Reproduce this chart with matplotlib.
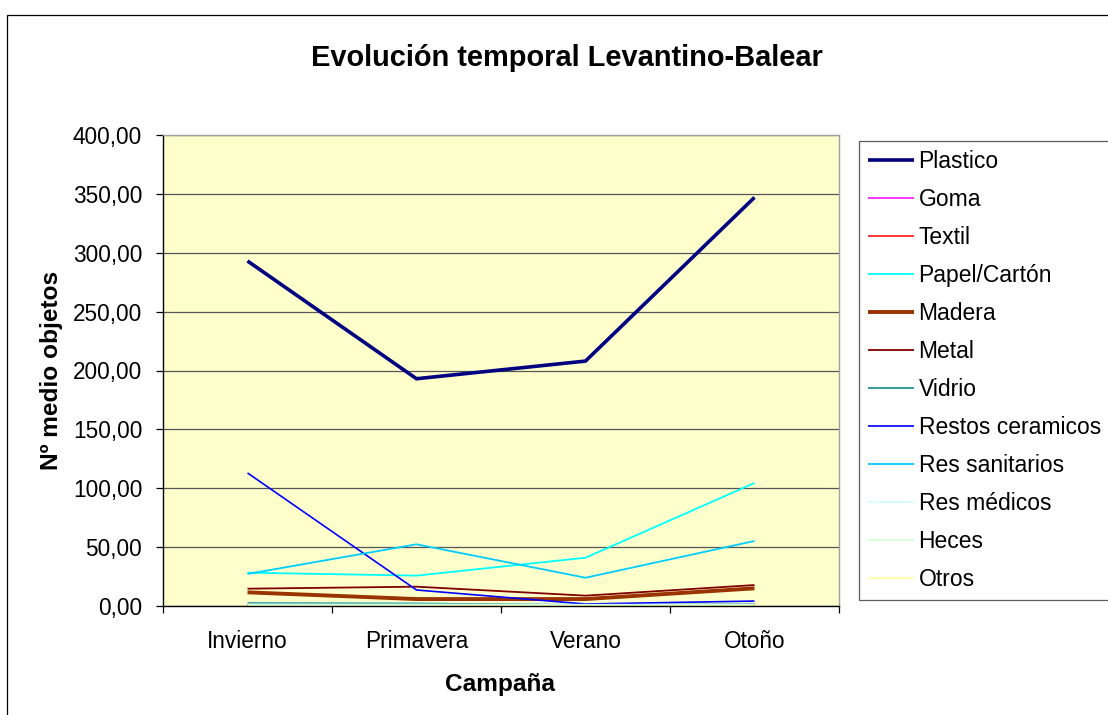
import matplotlib
matplotlib.use("Agg")
import matplotlib.pyplot as plt
from matplotlib.patches import Rectangle
from matplotlib.ticker import FuncFormatter, FixedLocator

plt.rcParams['font.family'] = ['Liberation Sans', 'DejaVu Sans']

categories = ["Invierno", "Primavera", "Verano", "Otoño"]
series_names = ["Plastico", "Goma", "Textil", "Papel/Cartón", "Madera", "Metal",
                "Vidrio", "Restos ceramicos", "Res sanitarios", "Res médicos",
                "Heces", "Otros"]
plastico = [293.0, 193.0, 208.0, 347.0]
goma = [0.3, 0.3, 0.3, 1.2]
textil = [0.5, 0.5, 0.4, 0.6]
papel = [28.3, 25.8, 41.0, 104.5]
madera = [11.6, 5.9, 5.9, 15.0]
metal = [14.7, 16.4, 8.8, 17.8]
vidrio = [2.5, 2.2, 1.0, 1.5]
ceramicos = [113.0, 13.6, 1.7, 4.2]
sanitarios = [27.2, 52.4, 24.0, 55.2]
medicos = [1.5, 1.5, 1.2, 1.3]
heces = [0.5, 0.5, 0.4, 0.5]
otros = [0.2, 0.2, 0.2, 0.2]
yticks = [0, 50, 100, 150, 200, 250, 300, 350, 400]

values = [plastico, goma, textil, papel, madera, metal, vidrio, ceramicos,
          sanitarios, medicos, heces, otros]
colors = ["#000080", "#FF00FF", "#FF0000", "#00FFFF", "#993300", "#800000",
          "#008080", "#0000FF", "#00CCFF", "#CCFFFF", "#CCFFCC", "#FFFF99"]
widths = [2.6, 1.1, 1.1, 1.3, 2.8, 1.3, 1.1, 1.2, 1.3, 1.1, 1.1, 1.1]

W, H = 1108, 715
fig = plt.figure(figsize=(W / 100, H / 100), dpi=100)
fig.patch.set_facecolor("white")

# outer chart border
fig.add_artist(Rectangle((7 / W, -0.05), 1.2, (H - 15) / H + 0.05,
                         transform=fig.transFigure, fill=False,
                         edgecolor="black", linewidth=0.9))

ax = fig.add_axes([163 / W, (H - 606) / H, 676 / W, 471 / H])
ax.set_facecolor("#FFFFCC")

x = list(range(len(categories)))
lines = []
for name, vals, c, lw in zip(series_names, values, colors, widths):
    ln, = ax.plot(x, vals, color=c, linewidth=lw, label=name,
                  solid_capstyle="butt", solid_joinstyle="miter", clip_on=False)
    lines.append(ln)

ax.set_xlim(-0.5, len(categories) - 0.5)
ax.set_ylim(0, 400)
ax.set_yticks(yticks)
ax.yaxis.set_major_formatter(FuncFormatter(lambda v, p: f"{v:.2f}".replace(".", ",")))
ax.yaxis.grid(True, color="#555555", linewidth=0.9)
ax.set_axisbelow(True)

ax.set_xticks(x)
ax.set_xticklabels(categories)
ax.xaxis.set_minor_locator(FixedLocator([i - 0.5 for i in range(len(categories) + 1)]))
ax.tick_params(axis="x", which="major", length=0, pad=17, labelsize=16.3)
ax.tick_params(axis="x", which="minor", length=5, width=0.9, direction="out", color="black")
ax.tick_params(axis="y", which="major", length=5, width=0.9, direction="out",
               labelsize=16.3, pad=10)

for s in ["top", "right"]:
    ax.spines[s].set_color("#A0A0A0")
    ax.spines[s].set_linewidth(1.0)
for s in ["left", "bottom"]:
    ax.spines[s].set_color("black")
    ax.spines[s].set_linewidth(1.0)

fig.text(567 / W, 1 - 58 / H, "Evolución temporal Levantino-Balear",
         ha="center", va="center", fontsize=20.9, fontweight="bold")
fig.text(500 / W, 1 - 685 / H, "Campaña", ha="center", va="center",
         fontsize=17.6, fontweight="bold")
fig.text(52 / W, 1 - 370 / H, "Nº medio objetos", ha="center", va="center",
         rotation=90, fontsize=17.6, fontweight="bold")

leg = fig.legend(handles=lines, labels=series_names, loc="upper left",
                 bbox_to_anchor=(859 / W, 1 - 141 / H), frameon=True,
                 fancybox=False, edgecolor="#333333", fontsize=16.5,
                 handlelength=2.0, handletextpad=0.2, labelspacing=0.655,
                 borderpad=0.4, borderaxespad=0)
leg.get_frame().set_linewidth(0.9)

fig.savefig("out.png", dpi=100)
